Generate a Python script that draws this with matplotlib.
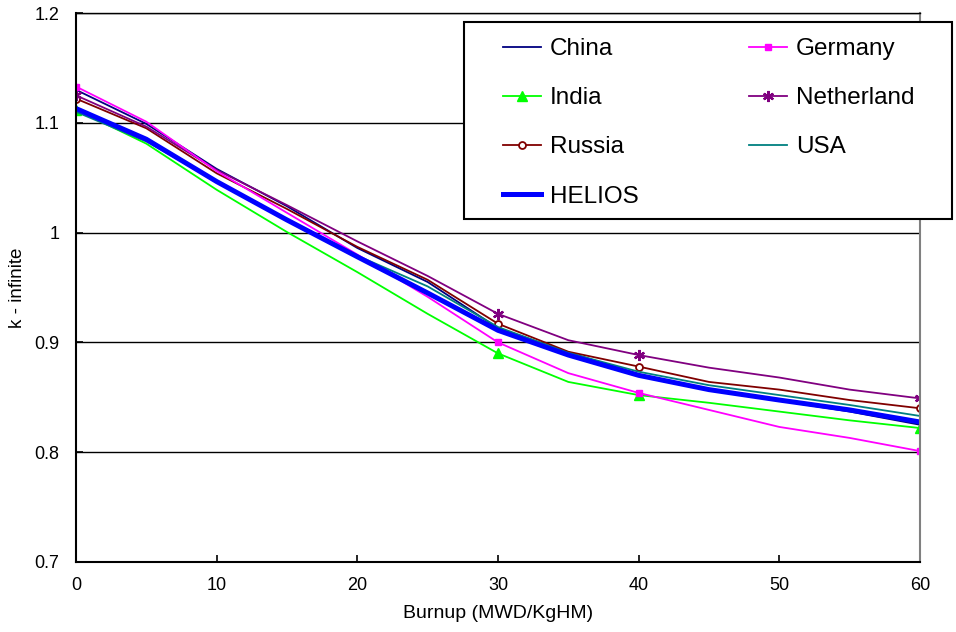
import matplotlib
matplotlib.use('Agg')
import matplotlib.pyplot as plt
import matplotlib.patches as mpatches

plt.rcParams['font.family'] = ['Liberation Sans', 'DejaVu Sans']

# ── data ───────────────────────────────────────────────────────
burnup = [0, 5, 10, 15, 20, 25, 30, 35, 40, 45, 50, 55, 60]

china      = [1.130, 1.099, 1.058, 1.024, 0.986, 0.955, 0.913, 0.891, 0.871, 0.857, 0.847, 0.837, 0.825]
germany    = [1.133, 1.101, 1.056, 1.018, 0.980, 0.9415, 0.900, 0.872, 0.854, 0.8385, 0.823, 0.813, 0.801]
india      = [1.112, 1.081, 1.039, 1.0005, 0.964, 0.926, 0.890, 0.864, 0.852, 0.845, 0.837, 0.829, 0.822]
netherland = [1.125, 1.0965, 1.057, 1.025, 0.992, 0.9605, 0.926, 0.902, 0.8885, 0.877, 0.868, 0.857, 0.849]
russia     = [1.122, 1.095, 1.054, 1.0215, 0.987, 0.957, 0.917, 0.8915, 0.878, 0.864, 0.857, 0.8475, 0.840]
usa        = [1.110, 1.083, 1.047, 1.012, 0.979, 0.951, 0.914, 0.8905, 0.8733, 0.861, 0.852, 0.843, 0.833]
helios     = [1.113, 1.085, 1.0465, 1.0115, 0.978, 0.945, 0.911, 0.8885, 0.870, 0.857, 0.8475, 0.8385, 0.8275]

mark_at = [0, 6, 8, 12]   # markers at 0, 30, 40, 60

# ── plot ───────────────────────────────────────────────────────
fig = plt.figure(figsize=(9.56, 6.32), dpi=100, facecolor='white')
ax = fig.add_axes([76/956, 1 - 562/632, (920-76)/956, (562-13)/632])

ax.plot(burnup, china, color='#000080', lw=1.3, label='China')
ax.plot(burnup, india, color='#00FF00', lw=1.3, marker='^', ms=7, markevery=mark_at, label='India')
ax.plot(burnup, russia, color='#800000', lw=1.3, marker='o', ms=5, mfc='white', mew=1.3,
        markevery=mark_at, label='Russia')
ax.plot(burnup, usa, color='#008080', lw=1.3, label='USA')
ax.plot(burnup, netherland, color='#800080', lw=1.3, marker=(6, 2, 0), ms=8, mew=1.6,
        markevery=mark_at, label='Netherland')
ax.plot(burnup, germany, color='#FF00FF', lw=1.3, marker='s', ms=4, markevery=mark_at, label='Germany')
ax.plot(burnup, helios, color='#0000FF', lw=3.6, label='HELIOS')

ax.set_xlim(0, 60)
ax.set_ylim(0.7, 1.2)
ax.set_xticks(range(0, 61, 10))
ax.set_yticks([0.7, 0.8, 0.9, 1.0, 1.1, 1.2])
ax.set_yticklabels(['0.7', '0.8', '0.9', '1', '1.1', '1.2'])
ax.yaxis.grid(True, color='black', lw=1.0)
ax.set_axisbelow(True)
ax.tick_params(direction='in', length=5, width=1.2, labelsize=13, colors='black')
ax.tick_params(axis='x', pad=11)
ax.tick_params(axis='y', pad=12)

for s in ['left', 'bottom', 'top']:
    ax.spines[s].set_color('black')
    ax.spines[s].set_linewidth(1.5)
ax.spines['top'].set_linewidth(1.0)
ax.spines['right'].set_color('#808080')
ax.spines['right'].set_linewidth(1.5)

ax.set_xlabel('Burnup (MWD/KgHM)', fontsize=14, labelpad=8)
ax.set_ylabel('k - infinite', fontsize=13.5, labelpad=6)

# legend: column-wise order so rows read China/Germany, India/Netherland, ...
h = {l.get_label(): l for l in ax.get_lines()}
order = ['China', 'India', 'Russia', 'HELIOS', 'Germany', 'Netherland', 'USA']
leg = fig.legend([h[k] for k in order], order, ncol=2, loc='upper left',
                 bbox_to_anchor=(503/956, 1 - 38/632), borderaxespad=0,
                 fontsize=17.5, frameon=False, handlelength=1.56,
                 handletextpad=0.37, labelspacing=1.12, borderpad=0,
                 columnspacing=4.55)
for t in leg.get_texts():
    t.set_color('black')

# legend frame as in the original (wider than the entries)
fig.patches.append(mpatches.Rectangle((464/956, 1 - 219/632), (952-464)/956, (219-22)/632,
                                      transform=fig.transFigure, fill=True, facecolor='white',
                                      edgecolor='black', lw=1.5, zorder=0.5))
leg.set_zorder(3)

plt.savefig('out.png', dpi=100, facecolor='white')
